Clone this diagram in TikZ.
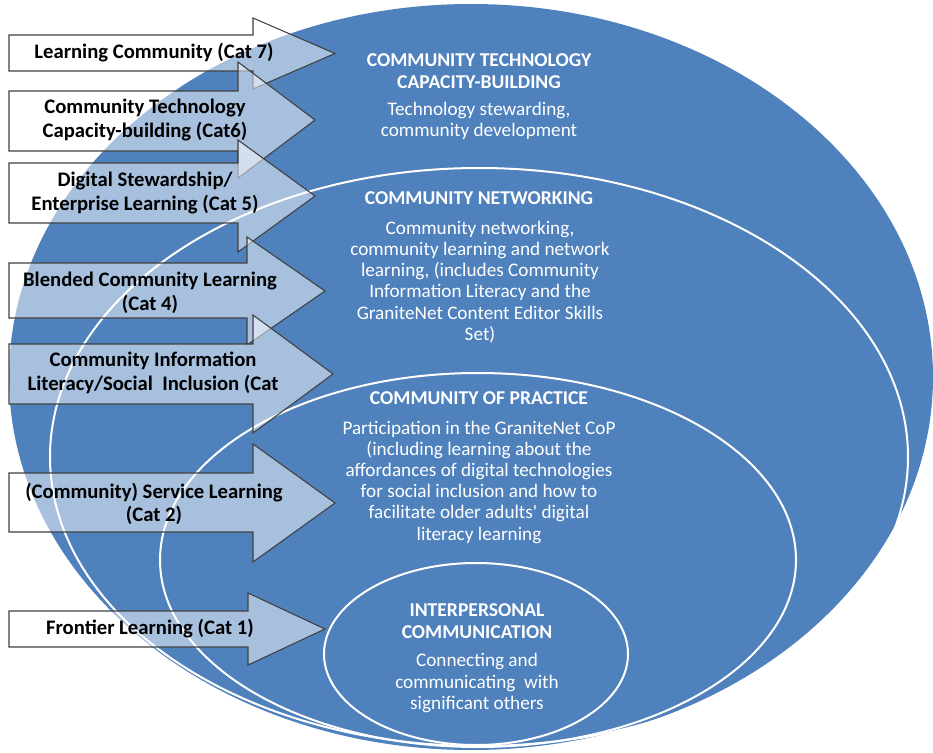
\documentclass[tikz,border=0pt]{standalone}
\usepackage{fontspec}
\setmainfont{Carlito}

\definecolor{ringblue}{RGB}{79,129,189}
\tikzset{
  ring/.style={draw=white, line width=1.5pt},
  catarrow/.style={draw=black!75, line width=0.8pt, fill=white, fill opacity=0.5},
  catlabel/.style={font=\fontsize{15.5}{17.6}\selectfont\bfseries, align=center, inner sep=0pt},
  ringtitle/.style={font=\fontsize{14.7}{16.5}\selectfont\bfseries, align=center, text=white, inner sep=0pt},
  ringtext/.style={font=\fontsize{14.4}{15.9}\selectfont, align=center, text=white, inner sep=0pt},
}

\begin{document}
\begin{tikzpicture}[x=0.75pt,y=-0.75pt]
\useasboundingbox (0,0) rectangle (933,753);

% nested rings
\fill[ringblue] (471,377) ellipse [x radius=462, y radius=373];
\draw[ring] (479,457) ellipse [x radius=429, y radius=289];
\draw[ring] (478,560) ellipse [x radius=318, y radius=187];
\draw[ring] (476,654) ellipse [x radius=152, y radius=91];

\node[ringtitle] (techtitle) at (479,71) {COMMUNITY TECHNOLOGY\\CAPACITY-BUILDING};
\node[ringtext] (techtext) at (479,121) {Technology stewarding,\\community development};
\node[ringtitle] (nettitle) at (479,198) {COMMUNITY NETWORKING};
\node[ringtext] (nettext) at (480,282) {Community networking,\\community learning and network\\learning, (includes Community\\Information Literacy and the\\GraniteNet Content Editor Skills\\Set)};
\node[ringtitle] (coptitle) at (479,398) {COMMUNITY OF PRACTICE};
\node[ringtext] (coptext) at (479,482) {Participation in the GraniteNet CoP\\(including learning about the\\affordances of digital technologies\\for social inclusion and how to\\facilitate older adults\textquotesingle\ digital\\literacy learning};
\node[ringtitle] (ictitle) at (477,621) {INTERPERSONAL\\COMMUNICATION};
\node[ringtext] (ictext) at (477,683) {Connecting and\\communicating\ \ with\\significant others};

% block arrows: body top/bottom, head x, head top/bottom, tip x
\foreach \t/\b/\hx/\ht/\hb/\tx in {35/71/253/18/89/335, 91/151/238/62/178/315,
    163/223/238/140/252/315, 263/318/247/237/345/325, 344/404/253/315/433/333,
    473/532/253/444/562/335, 611/647/248/593/665/325}
  \draw[catarrow] (9,\t) -- (\hx,\t) -- (\hx,\ht) -- (\tx,{(\ht+\hb)/2})
    -- (\hx,\hb) -- (\hx,\b) -- (9,\b) -- cycle;

\node[catlabel] (cat7) at (154,53) {Learning Community (Cat 7)};
\node[catlabel] (cat6) at (145,120) {Community Technology\\Capacity-building (Cat6)};
\node[catlabel] (cat5) at (145,193) {Digital Stewardship/\\Enterprise Learning (Cat 5)};
\node[catlabel] (cat4) at (150,293) {Blended Community Learning\\(Cat 4)};
\node[catlabel] (cat3) at (153,373) {Community Information\\Literacy/Social\ \ Inclusion (Cat};
\node[catlabel] (cat2) at (154,504) {(Community) Service Learning\\(Cat 2)};
\node[catlabel] (cat1) at (150,629) {Frontier Learning (Cat 1)};
\end{tikzpicture}
\end{document}
